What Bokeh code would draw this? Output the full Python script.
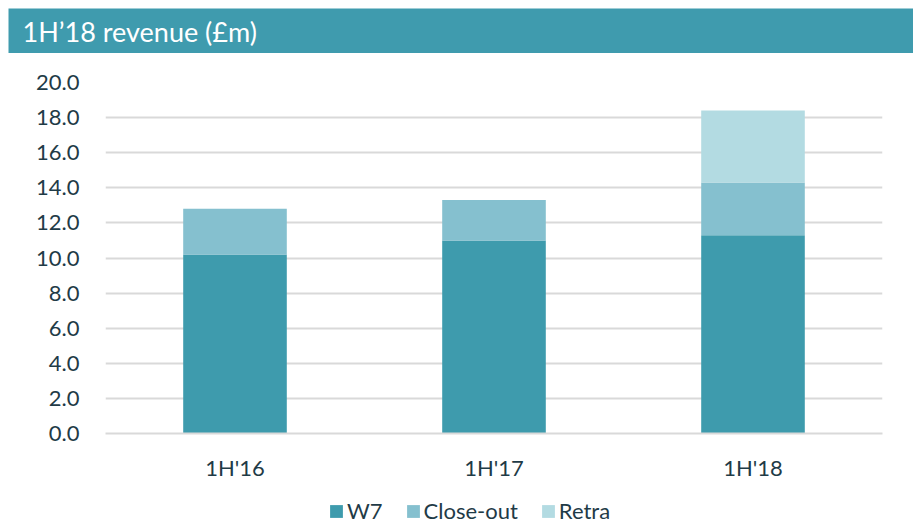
from bokeh.plotting import figure
from bokeh.models import (ColumnDataSource, Range1d, FactorRange, Legend, LegendItem,
                          FixedTicker, NumeralTickFormatter)
from bokeh.embed import file_html
from bokeh.resources import INLINE
from bokeh.core.properties import value

# ---- data ----
periods = ["1H'16", "1H'17", "1H'18"]
w7 = [10.2, 11.0, 11.3]
close_out = [2.6, 2.3, 3.0]
retra = [0.0, 0.0, 4.1]
series = ["W7", "Close-out", "Retra"]
colors = ["#3E9BAD", "#85C0CF", "#B3DBE2"]
y_ticks = [0, 2, 4, 6, 8, 10, 12, 14, 16, 18, 20]
title_text = "1H\u201918 revenue (\u00a3m)"

HEADER = "#3F9BAE"
TEXT = "#1F3B47"
GRID = "#D9D9D9"
FONT = "Lato"

src = ColumnDataSource(dict(period=periods, **{"W7": w7, "Close-out": close_out, "Retra": retra}))

# ---- header ----
hdr = figure(width=905, height=45, x_range=Range1d(0, 905), y_range=Range1d(0, 45),
             toolbar_location=None, output_backend="svg",
             x_axis_location=None, y_axis_location=None, min_border=0,
             margin=(8, 4, 0, 8))
hdr.background_fill_color = HEADER
hdr.border_fill_color = HEADER
hdr.outline_line_color = None
hdr.grid.visible = False
hdr.text(x=[14], y=[22], text=[title_text], text_color="white",
         text_font=value(FONT), text_font_size="27px", text_baseline="middle",
         text_align="left")

# ---- main chart ----
p = figure(width=905, height=443, x_range=FactorRange(*periods), y_range=Range1d(0, 20),
           toolbar_location=None, output_backend="svg",
           min_border_left=97, min_border_right=31, min_border_top=29, min_border_bottom=63,
           margin=(0, 4, 0, 8))
p.outline_line_color = None
p.background_fill_color = "white"
p.border_fill_color = "white"

p.vbar_stack(series, x="period", width=0.4, color=colors, line_color=None, source=src)

p.xgrid.grid_line_color = None
p.ygrid.grid_line_color = GRID
p.ygrid.grid_line_width = 2
p.yaxis.ticker = FixedTicker(ticks=y_ticks)
p.yaxis.formatter = NumeralTickFormatter(format="0.0")
p.yaxis.axis_line_color = None
p.yaxis.major_tick_line_color = None
p.yaxis.minor_tick_line_color = None
p.yaxis.major_label_standoff = 20
p.xaxis.axis_line_color = GRID
p.xaxis.axis_line_width = 2
p.xaxis.major_tick_line_color = None
p.xaxis.major_label_standoff = 14
for ax in (p.xaxis, p.yaxis):
    ax.major_label_text_font = FONT
    ax.major_label_text_font_size = "22px"
    ax.major_label_text_color = TEXT

# ---- legend strip (its bars sit outside the visible range; only the legend shows) ----
lg = figure(width=905, height=28, x_range=FactorRange(*periods), y_range=Range1d(100, 101),
            toolbar_location=None, output_backend="svg",
            x_axis_location=None, y_axis_location=None, min_border=0,
            margin=(0, 4, 0, 8))
lg.outline_line_color = None
lg.grid.visible = False
lg_renderers = lg.vbar_stack(series, x="period", width=0.4, color=colors,
                             line_color=None, source=src)
legend = Legend(items=[LegendItem(label=s, renderers=[r]) for s, r in zip(series, lg_renderers)],
                orientation="horizontal", location=(320, 0))
legend.label_text_font = FONT
legend.label_text_font_size = "22px"
legend.label_text_color = TEXT
legend.glyph_width = 16
legend.glyph_height = 16
legend.spacing = 22
legend.label_standoff = 3
legend.border_line_color = None
legend.background_fill_alpha = 0
legend.padding = 0
legend.margin = 0
lg.add_layout(legend, "center")

open("out.html", "w").write(file_html([hdr, p, lg], INLINE))
